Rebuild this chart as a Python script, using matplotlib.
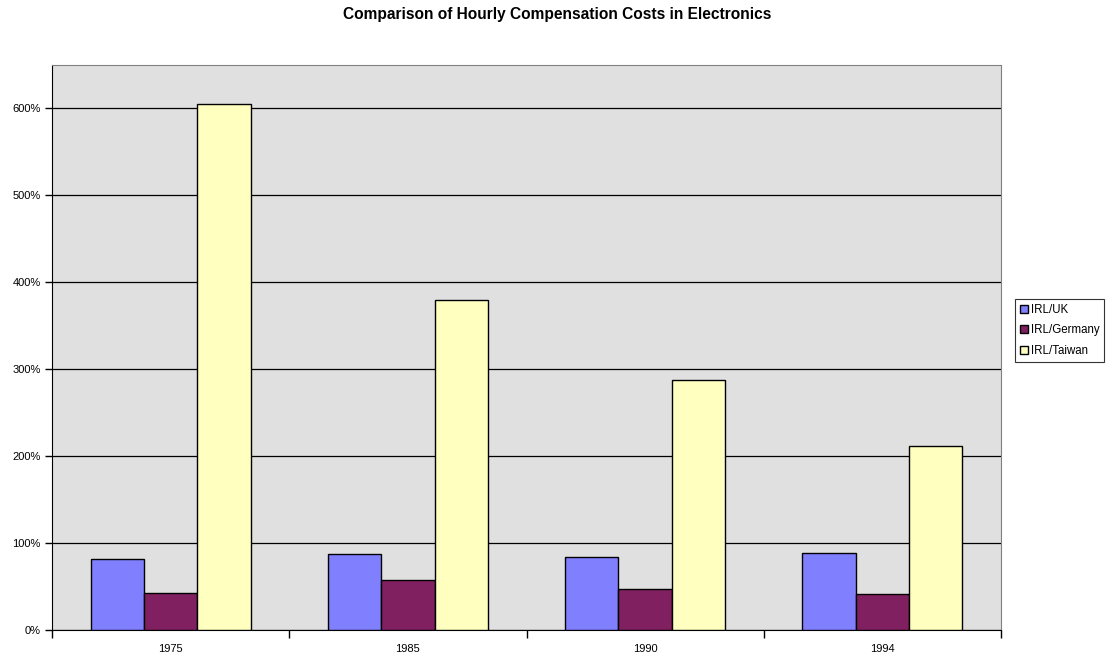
import matplotlib.pyplot as plt
import numpy as np
from matplotlib.ticker import FuncFormatter, FixedLocator

plt.rcParams['font.family'] = ['Liberation Sans', 'DejaVu Sans']

# %%
years = ['1975', '1985', '1990', '1994']
series = ['IRL/UK', 'IRL/Germany', 'IRL/Taiwan']
irl_uk = [0.81, 0.87, 0.84, 0.89]
irl_germany = [0.42, 0.57, 0.47, 0.41]
irl_taiwan = [6.04, 3.79, 2.87, 2.11]
colors = ['#8080ff', '#802060', '#ffffc0']

# %%
fig = plt.figure(figsize=(11.13, 6.58), dpi=100)
ax = fig.add_axes([52 / 1113, 1 - 630 / 658, 949 / 1113, 565 / 658])
ax.set_facecolor('#e0e0e0')

x = np.arange(len(years))
width = 0.225
for i, (vals, name, col) in enumerate(zip([irl_uk, irl_germany, irl_taiwan], series, colors)):
    ax.bar(x + (i - 1) * width, vals, width, color=col, edgecolor='black', linewidth=1, label=name, zorder=3)

ax.set_xlim(-0.5, len(years) - 0.5)
ax.set_ylim(0, 6.49)
ax.set_yticks(np.arange(0, 7, 1))
ax.yaxis.set_major_formatter(FuncFormatter(lambda v, p: f'{v * 100:.0f}%'))
ax.yaxis.grid(True, color='black', linewidth=0.9, zorder=1)
ax.set_axisbelow(True)

ax.xaxis.set_major_locator(FixedLocator(np.arange(-0.5, len(years), 1)))
ax.xaxis.set_major_formatter(FuncFormatter(lambda v, p: ''))
ax.xaxis.set_minor_locator(FixedLocator(x))
ax.set_xticklabels(years, minor=True)
ax.tick_params(axis='x', which='major', direction='out', length=6, width=1, color='black')
ax.tick_params(axis='x', which='minor', length=0, pad=10, labelsize=8)
ax.tick_params(axis='y', direction='out', length=5, width=1, labelsize=8, pad=3)

for side in ['top', 'right']:
    ax.spines[side].set_color('#808080')
for side in ['left', 'bottom']:
    ax.spines[side].set_color('black')

fig.text(557 / 1113, 1 - 15 / 658, 'Comparison of Hourly Compensation Costs in Electronics',
         ha='center', va='center', fontsize=11.2, fontweight='bold')

leg = fig.legend(loc='center left', bbox_to_anchor=(1015 / 1113, 1 - 330.5 / 658), fontsize=8.3,
                 frameon=True, fancybox=False, edgecolor='black', handlelength=0.7, handleheight=0.7,
                 handletextpad=0.2, labelspacing=0.75, borderpad=0.45, borderaxespad=0)
leg.get_frame().set_linewidth(0.8)

fig.savefig('out.png', dpi=100)
